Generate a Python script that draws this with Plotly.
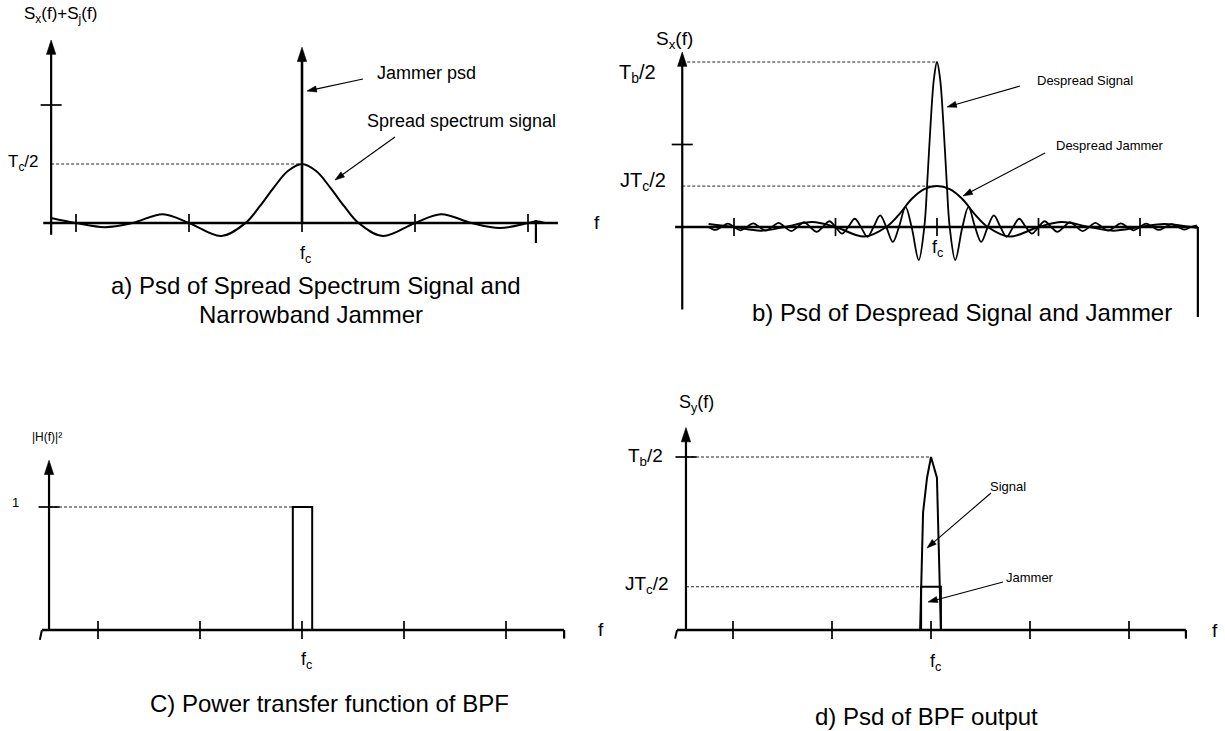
import plotly.graph_objects as go

W, H = 1225, 731
FONT = "Liberation Sans, Arial, sans-serif"

# ------------------------------------------------------------------ data
# frequency axis: (f - fc) in units of 1/Tc ; tick marks every 2/Tc
X_TICKS = [-4, -2, 0, 2, 4]

# a) spread-spectrum signal psd (units of Tc/2) and narrowband jammer spike
A_SIG_F = [-4.44, -4.0, -3.49, -3.0, -2.46, -2.0, -1.43, -1.0, -0.75, -0.5, -0.25, 0.0,
           0.25, 0.5, 0.75, 1.0, 1.43, 2.0, 2.46, 3.0, 3.5, 4.0, 4.15, 4.3]
A_SIG_Y = [0.085, 0.0, -0.07, 0.0, 0.15, 0.0, -0.22, 0.0, 0.28, 0.6, 0.88, 1.0,
           0.88, 0.6, 0.28, 0.0, -0.22, 0.0, 0.15, 0.0, -0.085, 0.0, 0.03, 0.0]
A_JAM_F = [0.0, 0.0]
A_JAM_Y = [0.0, 2.98]
A_LEVELS = [1.0]          # Tc/2
A_YTICK = [2.0]

# b) despread signal (units of Tb/2) and despread jammer
B_SIG_F = [-4.5, -4.37, -4.25, -4.12, -4.0, -3.87, -3.75, -3.62, -3.5, -3.37, -3.25, -3.12,
           -3.0, -2.87, -2.75, -2.62, -2.5, -2.37, -2.25, -2.12, -2.0, -1.87, -1.75, -1.62,
           -1.5, -1.37, -1.25, -1.12, -1.0, -0.87, -0.75, -0.62, -0.5, -0.36, -0.25, -0.19,
           -0.125, -0.06, 0.0, 0.06, 0.125, 0.19, 0.25, 0.36, 0.5, 0.62, 0.75, 0.87,
           1.0, 1.12, 1.25, 1.37, 1.5, 1.62, 1.75, 1.87, 2.0, 2.12, 2.25, 2.37,
           2.5, 2.62, 2.75, 2.87, 3.0, 3.12, 3.25, 3.37, 3.5, 3.62, 3.75, 3.87,
           4.0, 4.12, 4.25, 4.37, 4.5, 4.62, 4.75, 4.87, 5.0, 5.12]
B_SIG_Y = [0.0, -0.018, 0.0, 0.02, 0.0, -0.02, 0.0, 0.022, 0.0, -0.022, 0.0, 0.025,
           0.0, -0.025, 0.0, 0.03, 0.0, -0.03, 0.0, 0.035, 0.0, -0.04, 0.0, 0.05,
           0.0, -0.06, 0.0, 0.07, 0.0, -0.09, 0.0, 0.12, 0.0, -0.2, 0.0, 0.28,
           0.63, 0.9, 1.0, 0.9, 0.63, 0.28, 0.0, -0.2, 0.0, 0.12, 0.0, -0.09,
           0.0, 0.07, 0.0, -0.06, 0.0, 0.05, 0.0, -0.04, 0.0, 0.035, 0.0, -0.03,
           0.0, 0.03, 0.0, -0.025, 0.0, 0.025, 0.0, -0.022, 0.0, 0.022, 0.0, -0.02,
           0.0, 0.02, 0.0, -0.018, 0.0, 0.018, 0.0, -0.016, 0.0, 0.01]
B_JAM_F = [-4.5, -4.0, -3.47, -3.0, -2.46, -2.0, -1.43, -1.0, -0.75, -0.5, -0.25, 0.0,
           0.25, 0.5, 0.75, 1.0, 1.43, 2.0, 2.46, 3.0, 3.47, 4.0, 4.48, 5.0, 5.12]
B_JAM_Y = [0.018, 0.0, -0.022, 0.0, 0.03, 0.0, -0.058, 0.0, 0.075, 0.17, 0.23, 0.248,
           0.23, 0.17, 0.075, 0.0, -0.058, 0.0, 0.03, 0.0, -0.022, 0.0, 0.018, 0.0, -0.005]
B_LEVELS = [1.0, 0.248]   # Tb/2, JTc/2
B_YTICK = [0.5]

# c) power transfer function of the BPF
C_BPF_F = [-0.18, -0.18, 0.2, 0.2]
C_BPF_Y = [0.0, 1.0, 1.0, 0.0]
C_LEVELS = [1.0]
C_YTICK = [1.0]

# d) psd of BPF output
D_SIG_F = [-0.22, -0.2, -0.16, -0.08, 0.0, 0.12, 0.14, 0.18, 0.2]
D_SIG_Y = [0.0, 0.25, 0.68, 0.88, 1.0, 0.88, 0.68, 0.25, 0.0]
D_JAM_F = [-0.2, -0.2, 0.2, 0.2]
D_JAM_Y = [0.0, 0.25, 0.25, 0.0]
D_LEVELS = [1.0, 0.25]
D_YTICK = [1.0]

# ------------------------------------------------------------------ layout geometry
# box = (left, right, top, bottom) in px ; x0/y0 = pixel of (fc, 0) ; sx/sy = px per unit
PANELS = {
    1: dict(box=(0, 612, 0, 365), x0=302, sx=56.5, y0=223, sy=59),
    2: dict(box=(612, 1225, 0, 365), x0=937, sx=50.75, y0=227, sy=165),
    3: dict(box=(0, 612, 365, 731), x0=302, sx=51, y0=630, sy=123),
    4: dict(box=(612, 1225, 365, 731), x0=931, sx=49.5, y0=630, sy=173),
}
# axis drawing extents (data units)
AXES = {
    1: dict(yax=-4.44, ybot=-0.2, ytop=3.1, xl=-4.58, xr=4.53),
    2: dict(yax=-5.02, ybot=-0.5, ytop=1.06, xl=-5.16, xr=5.14),
    3: dict(yax=-4.96, ybot=0.0, ytop=1.38, xl=-5.1, xr=5.14),
    4: dict(yax=-4.95, ybot=0.0, ytop=1.17, xl=-5.13, xr=5.15),
}

fig = go.Figure()
lay = {}


def sfx(k):
    return '' if k == 1 else str(k)


for k, p in PANELS.items():
    L, R, T, B = p['box']
    s = sfx(k)
    lay['xaxis' + s] = dict(domain=[L / W, R / W],
                            range=[(L - p['x0']) / p['sx'], (R - p['x0']) / p['sx']],
                            visible=False, fixedrange=True, anchor='y' + s)
    lay['yaxis' + s] = dict(domain=[1 - B / H, 1 - T / H],
                            range=[(p['y0'] - B) / p['sy'], (p['y0'] - T) / p['sy']],
                            visible=False, fixedrange=True, anchor='x' + s)


def to_data(k, px, py):
    p = PANELS[k]
    return (px - p['x0']) / p['sx'], (p['y0'] - py) / p['sy']


def line(k, xs, ys, width=2.0, dash=None, shape='linear', color='black'):
    s = sfx(k)
    fig.add_trace(go.Scatter(x=xs, y=ys, mode='lines',
                             line=dict(color=color, width=width, dash=dash, shape=shape, smoothing=1.0),
                             xaxis='x' + s, yaxis='y' + s, hoverinfo='skip', showlegend=False))


def marks(k, xs, ys, symbol, size):
    s = sfx(k)
    fig.add_trace(go.Scatter(x=xs, y=ys, mode='markers',
                             marker=dict(symbol=symbol, size=size, color='black',
                                         line=dict(width=1.7, color='black')),
                             xaxis='x' + s, yaxis='y' + s, hoverinfo='skip', showlegend=False,
                             cliponaxis=False))


def arrow(k, x0, y0, x1, y1, width=2.2, head=12):
    """line from (x0,y0) to (x1,y1) with an arrow head whose tip is at (x1,y1)"""
    s = sfx(k)
    fig.add_trace(go.Scatter(x=[x0, x1], y=[y0, y1], mode='lines+markers',
                             line=dict(color='black', width=width),
                             marker=dict(symbol='arrow', size=[0, head], angleref='previous',
                                         color='black', opacity=1,
                                         line=dict(width=0.6, color='black')),
                             xaxis='x' + s, yaxis='y' + s, hoverinfo='skip', showlegend=False,
                             cliponaxis=False))


def callout(k, hx, hy, tx, ty):
    x0, y0 = to_data(k, tx, ty)
    x1, y1 = to_data(k, hx, hy)
    arrow(k, x0, y0, x1, y1, width=1.1, head=10)


annotations = []


def text(px, py, s, size):
    annotations.append(dict(xref='paper', yref='paper', x=px / W, y=1 - py / H,
                            xanchor='center', yanchor='middle', text=s, showarrow=False,
                            font=dict(family=FONT, size=size, color='black')))


def frame(k, levels, yticks, level_ends):
    a = AXES[k]
    for lv, xe in zip(levels, level_ends):
        line(k, [a['yax'], xe], [lv, lv], width=1.0, dash='3px,2px', color='#222')
    line(k, [a['xl'], a['xr']], [0, 0], width=2.4)
    marks(k, X_TICKS, [0] * len(X_TICKS), 'line-ns-open', 13)
    marks(k, [a['yax']] * len(yticks), yticks, 'line-ew-open', 15)
    arrow(k, a['yax'], a['ybot'], a['yax'], a['ytop'], width=2.2, head=15)


# ---------------- panel a
frame(1, A_LEVELS, A_YTICK, [0.0])
line(1, A_SIG_F, A_SIG_Y, width=2.0, shape='spline')
line(1, [4.14, 4.14], [0.05, -0.34], width=2.2)
arrow(1, A_JAM_F[0], A_JAM_Y[0], A_JAM_F[1], A_JAM_Y[1], width=2.6, head=15)

# ---------------- panel b
frame(2, B_LEVELS, B_YTICK, [0.0, 0.0])
line(2, B_JAM_F, B_JAM_Y, width=2.0, shape='spline')
line(2, B_SIG_F, B_SIG_Y, width=1.8, shape='spline')
line(2, [5.14, 5.14], [0.0, -0.545], width=2.2)

# ---------------- panel c
frame(3, C_LEVELS, C_YTICK, [-0.18])
line(3, [-5.14, -5.1], [-0.08, 0.0], width=2.0)
line(3, [5.14, 5.14], [0.0, -0.07], width=2.2)
line(3, C_BPF_F, C_BPF_Y, width=2.0)

# ---------------- panel d
frame(4, D_LEVELS, D_YTICK, [0.0, -0.2])
line(4, [-5.17, -5.13], [-0.05, 0.0], width=2.0)
line(4, [5.15, 5.15], [0.0, -0.05], width=2.2)
line(4, D_JAM_F, D_JAM_Y, width=2.0)
line(4, D_SIG_F, D_SIG_Y, width=2.0)

# ---------------- texts and callouts
# panel a
text(60, 15, "S<sub>x</sub>(f)+S<sub>j</sub>(f)", 17)
text(23, 163, "T<sub>c</sub>/2", 17)
text(305, 255, "f<sub>c</sub>", 18)
text(597, 223, "f", 19)
text(426, 73, "Jammer psd", 18)
text(461, 121, "Spread spectrum signal", 18)
callout(1, 307, 91, 363, 79)
callout(1, 335, 180, 395, 137)
text(316, 285, "a) Psd of Spread Spectrum Signal and", 24)
text(311, 314, "Narrowband Jammer", 24)

# panel b
text(674, 40, "S<sub>x</sub>(f)", 19)
text(637, 73, "T<sub>b</sub>/2", 20)
text(643, 181, "JT<sub>c</sub>/2", 20)
text(937, 248, "f<sub>c</sub>", 18)
text(1085, 80, "Despread Signal", 13)
text(1110, 145, "Despread Jammer", 13)
callout(2, 947, 107, 1020, 86)
callout(2, 963, 196, 1045, 153)
text(962, 313, "b) Psd of Despread Signal and Jammer", 24)

# panel c
text(47, 437, "|H(f)|²", 12)
text(15, 503, "1", 13)
text(306, 660, "f<sub>c</sub>", 18)
text(601, 629, "f", 19)
text(329, 703, "C) Power transfer function of BPF", 24)

# panel d
text(696, 403, "S<sub>y</sub>(f)", 18)
text(645, 457, "T<sub>b</sub>/2", 19)
text(647, 585, "JT<sub>c</sub>/2", 19)
text(936, 662, "f<sub>c</sub>", 18)
text(1215, 630, "f", 19)
text(1008, 487, "Signal", 13)
text(1030, 577, "Jammer", 13)
callout(4, 927, 548, 991, 493)
callout(4, 928, 602, 1003, 582)
text(926, 716, "d) Psd of BPF output", 24)

fig.update_layout(width=W, height=H, margin=dict(l=0, r=0, t=0, b=0),
                  paper_bgcolor='white', plot_bgcolor='rgba(0,0,0,0)',
                  showlegend=False, annotations=annotations,
                  font=dict(family=FONT, color='black'), **lay)
fig.write_html("out.html",
               config={'displayModeBar': False, 'staticPlot': True},
               post_script="document.body.style.margin='0px';document.body.style.overflow='hidden';")
